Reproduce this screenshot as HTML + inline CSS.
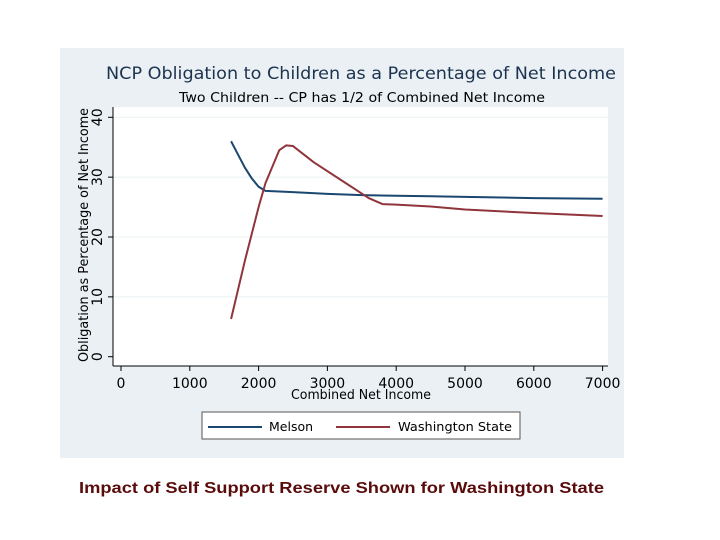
<!DOCTYPE html>
<html><head><meta charset="utf-8"><style>
body{margin:0;width:720px;height:540px;background:#fff;overflow:hidden}
svg{display:block}
text{font-family:"DejaVu Sans","Liberation Sans",sans-serif}
</style></head><body>
<svg width="720" height="540">
<rect x="60" y="48" width="564" height="410" fill="#eaf0f3"/>
<rect x="113" y="107" width="495" height="259" fill="#fff"/>
<text x="106" y="79" font-size="17" fill="#1c3350" textLength="510" lengthAdjust="spacingAndGlyphs">NCP Obligation to Children as a Percentage of Net Income</text>
<text x="179" y="102" font-size="13" fill="#000" textLength="366" lengthAdjust="spacingAndGlyphs">Two Children -- CP has 1/2 of Combined Net Income</text>
<g id="grid"></g><g id="axes"></g><g id="series"></g>
<text x="291" y="399" font-size="13" fill="#000" textLength="140" lengthAdjust="spacingAndGlyphs">Combined Net Income</text>
<text transform="translate(88,362) rotate(-90)" font-size="13" fill="#000" textLength="254" lengthAdjust="spacingAndGlyphs">Obligation as Percentage of Net Income</text>
<g>
<rect x="202" y="412" width="318" height="27" fill="#fff" stroke="#555" stroke-width="1"/>
<line x1="208" y1="427" x2="262" y2="427" stroke="#1a476f" stroke-width="2"/>
<text x="269" y="431" font-size="12.5">Melson</text>
<line x1="336" y1="427" x2="390" y2="427" stroke="#90353b" stroke-width="2"/>
<text x="398" y="431" font-size="12.5" textLength="114" lengthAdjust="spacingAndGlyphs">Washington State</text>
</g>
<text x="79" y="493" font-size="16" font-weight="bold" fill="#5a0c0c" textLength="525" lengthAdjust="spacingAndGlyphs" style="font-family:'Liberation Sans',sans-serif">Impact of Self Support Reserve Shown for Washington State</text>
</svg>
<script>
const xTicks=[0,1000,2000,3000,4000,5000,6000,7000];
const yTicks=[0,10,20,30,40];
const melsonX=[1600,1700,1800,1900,2000,2100,2500,3000,3500,4000,4500,5000,6000,7000];
const melsonY=[36,33.8,31.6,29.8,28.4,27.7,27.5,27.2,27.0,26.9,26.8,26.7,26.5,26.4];
const waX=[1600,1800,2000,2100,2300,2400,2500,2800,3200,3600,3800,4000,4500,5000,6000,7000];
const waY=[6.3,16,25,29,34.5,35.3,35.2,32.5,29.5,26.5,25.5,25.4,25.1,24.6,24.0,23.5];
const NS='http://www.w3.org/2000/svg';
const sx=v=>121+v*0.0688;
const sy=v=>356.7-v*5.985;
function mk(t,a,p){const e=document.createElementNS(NS,t);for(const k in a)e.setAttribute(k,a[k]);p.appendChild(e);return e;}
const grid=document.getElementById('grid'),axes=document.getElementById('axes'),ser=document.getElementById('series');
yTicks.forEach(v=>{
 if(v>0){const g=mk('line',{x1:113,x2:608,y1:sy(v),y2:sy(v),stroke:'#eaf0f3','stroke-width':1},grid);
 
 }
 const t=mk('line',{x1:108,x2:113,y1:sy(v),y2:sy(v),stroke:'#000'},axes);
 
 
 const l=mk('text',{transform:`translate(102,${sy(v)}) rotate(-90)`,'text-anchor':'middle','font-size':14},axes);
 l.textContent=v;
 
 
});
xTicks.forEach(v=>{
 const t=mk('line',{x1:sx(v),x2:sx(v),y1:366,y2:371,stroke:'#000'},axes);
 
 
 const l=mk('text',{x:sx(v),y:388,'text-anchor':'middle','font-size':14},axes);
 l.textContent=v;
 
 
});
const ya=mk('line',{x1:113,x2:113,y1:107,y2:366,stroke:'#000'},axes);


const xa=mk('line',{x1:113,x2:608,y1:366,y2:366,stroke:'#000'},axes);


function line(xs,ys,c,name){
 const p=mk('polyline',{points:xs.map((x,i)=>sx(x)+','+sy(ys[i])).join(' '),fill:'none',stroke:c,'stroke-width':2,'stroke-linejoin':'round'},ser);
 
 
}
line(melsonX,melsonY,'#1a476f','melson-line');
line(waX,waY,'#90353b','washington-state-line');
</script>
</body></html>
